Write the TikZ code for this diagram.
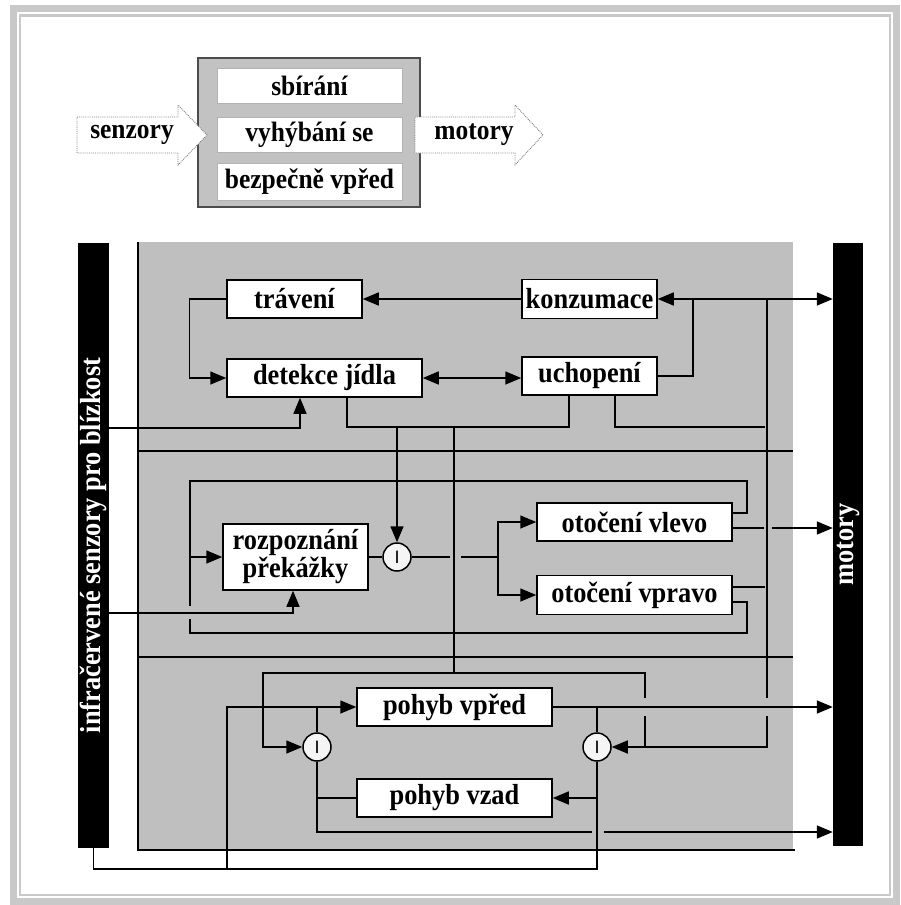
\documentclass[tikz,border=0pt]{standalone}
\usepackage{fontspec}
\setmainfont{Liberation Serif}
\newfontfamily\dfont[FakeStretch=0.91]{Liberation Serif}
\newfontfamily\circfont{Liberation Sans}
\usetikzlibrary{arrows.meta}
\definecolor{framegray}{gray}{0.79}
\definecolor{regiongray}{gray}{0.75}
\definecolor{topgray}{gray}{0.76}
\definecolor{topborder}{gray}{0.3}
\definecolor{arrowgray}{gray}{0.5}
\begin{document}
\begin{tikzpicture}[x=1pt,y=-1pt,
  ln/.style={line width=1.5pt},
  arr/.style={ln,-{Triangle[length=16pt,width=13pt]}},
  dbl/.style={ln,{Triangle[length=16pt,width=13pt]}-{Triangle[length=16pt,width=13pt]}},
  box/.style={draw,line width=1.5pt,fill=white,inner sep=0pt,
    font=\dfont\bfseries\fontsize{29}{28}\selectfont},
  topbox/.style={draw=gray!60,line width=0.6pt,fill=white,inner sep=0pt,
    minimum width=185pt,font=\dfont\bfseries\fontsize{28}{28}\selectfont},
  circ/.style={circle,draw,line width=1.5pt,fill=gray!8,minimum size=28pt,inner sep=0pt,
    font=\circfont\fontsize{18}{18}\selectfont},
  bar/.style={fill=black,draw=none,inner sep=0pt},
  bartext/.style={text=white,font=\dfont\bfseries\fontsize{29}{29}\selectfont,inner sep=0pt},
  arrowtext/.style={font=\dfont\bfseries\fontsize{28}{28}\selectfont,inner sep=0pt},
  arrowshape/.style={draw=arrowgray,line width=0.9pt,densely dotted,fill=white}
]
\useasboundingbox (0,0) rectangle (900,905);
\fill[white] (0,0) rectangle (900,905);
% frame
\draw[framegray,line width=7pt] (13.5,8.5) rectangle (896.5,901.5);
\draw[framegray,line width=2.5pt] (19.75,15.25) rectangle (890,895);

% ---------- top section ----------
\draw[topborder,line width=1.2pt,fill=topgray] (198,58) rectangle (420,207);
\node[topbox,minimum height=35pt] (s1) at (309.5,85.5) {sbírání};
\node[topbox,minimum height=35pt] (s2) at (309.5,134.5) {vyhýbání se};
\node[topbox,minimum height=37pt] (s3) at (309.5,181.5) {bezpečně vpřed};
\draw[arrowshape] (77,117) -- (178,117) -- (178,105) -- (207,135) -- (178,165) -- (178,153) -- (77,153) -- cycle;
\draw[arrowshape] (415,117) -- (515,117) -- (515,105) -- (543,135) -- (515,165) -- (515,153) -- (415,153) -- cycle;
\node[arrowtext] (tsen) at (132,135) {senzory};
\node[arrowtext] (tmot) at (474,135) {motory};

% ---------- main diagram ----------
\fill[regiongray] (138,242) rectangle (793,850);
\node[bar,minimum width=31pt,minimum height=605pt] (lbar) at (93.5,545.5) {};
\node[bartext,rotate=90] (lbartext) at (lbar.center) {infračervené senzory pro blízkost};
\node[bar,minimum width=30pt,minimum height=603pt] (rbar) at (848,544.5) {};
\node[bartext,rotate=90] (rbartext) at (rbar.center) {motory};

% layer lines
\draw[ln] (138,242) -- (138,850) -- (795,850);
\draw[ln] (138,451) -- (793,451);
\draw[ln] (138,657) -- (793,657);

% boxes
\node[box,minimum width=135pt,minimum height=38pt] (trav) at (294.5,299) {trávení};
\node[box,minimum width=195pt,minimum height=38pt] (det) at (324.5,378) {detekce jídla};
\node[box,minimum width=135pt,minimum height=39pt] (konz) at (589.5,299) {konzumace};
\node[box,minimum width=135pt,minimum height=38pt] (ucho) at (589.5,376) {uchopení};
\node[box,minimum width=145pt,minimum height=66pt,align=center] (rozp) at (295.5,557) {rozpoznání\\překážky};
\node[box,minimum width=195pt,minimum height=38pt] (vlevo) at (634.5,522) {otočení vlevo};
\node[box,minimum width=195pt,minimum height=39pt] (vpravo) at (634.5,595) {otočení vpravo};
\node[box,minimum width=195pt,minimum height=38pt] (vpred) at (454.5,707) {pohyb vpřed};
\node[box,minimum width=195pt,minimum height=38pt] (vzad) at (454.5,798) {pohyb vzad};
\node[circ] (c1) at (397,557) {I};
\node[circ] (c2) at (317,747) {I};
\node[circ] (c3) at (597,747) {I};

% top layer
\draw[arr] (konz.west) -- (trav.east);
\draw[arr] (trav.west) -- ++(-37,0) |- (det.west);
\draw[dbl] (det.east) -- (det.east -| ucho.west);
\draw[dbl] (konz.east) -- (rbar.west |- konz.east);
\draw[ln] (ucho.east) -| (693,299);
\draw[ln] (det.south -| 347,0) -- (347,427) -- (569,427) -- (ucho.south -| 569,0);
\draw[ln] (ucho.south -| 615,0) |- (765,427);
\draw[arr] (lbar.east |- 0,428) -| (det.south -| 300,0);
\draw[arr] (397,427) -- (c1.north);
\draw[ln] (454,427) -- (454,673);
\draw[ln] (767,299) -- (767,698);
\draw[arr] (767,716) |- (c3.east);

% middle layer
\draw[ln] (vlevo.east |- 0,513) -- (747,513) -- (747,481) -- (190,481) -- (190,606);
\draw[ln] (190,619) -- (190,633) -- (747,633) -- (747,602) -- (vpravo.east |- 0,602);
\draw[arr] (190,557) -- (rozp.west);
\draw[arr] (lbar.east |- 0,613) -| (rozp.south -| 293,0);
\draw[ln] (rozp.east) -- (c1.west);
\draw[ln] (c1.east) -- (450,557);
\draw[ln] (461,557) -- (498,557);
\draw[arr] (498,557) |- (vlevo.west);
\draw[arr] (498,557) |- (vpravo.west);
\draw[ln] (vlevo.east |- 0,528) -- (764,528);
\draw[arr] (772,528) -- (rbar.west |- 0,528);
\draw[ln] (vpravo.east |- 0,587) -- (765,587);

% bottom layer
\draw[arr] (645,698) -- (645,673) -| (263,747) -- (c2.west);
\draw[ln] (645,716) -- (645,747);
\draw[arr] (vpred.east) -- (rbar.west |- vpred.east);
\draw[ln] (c3.north) -- (c3.north |- vpred.east);
\draw[ln] (lbar.south) |- (597,869) -- (c3.south);
\draw[arr] (227,869) |- (vpred.west);
\draw[arr] (597,798) -- (vzad.east);
\draw[ln] (c2.north) -- (c2.north |- vpred.west);
\draw[ln] (c2.south) |- (592,832);
\draw[arr] (604,832) -- (rbar.west |- 0,832);
\draw[ln] (317,798) -- (vzad.west);
\end{tikzpicture}
\end{document}
